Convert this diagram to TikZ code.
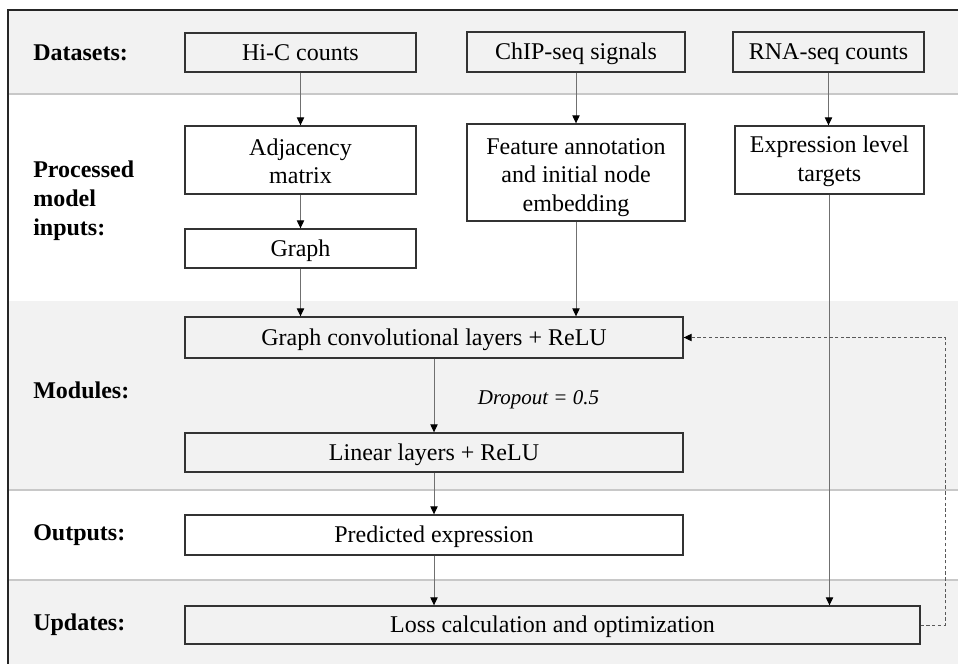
\documentclass[tikz,border=0pt]{standalone}
\usepackage{fontspec}
\setmainfont{Liberation Serif}
\usetikzlibrary{arrows.meta}
\def\px{0.75pt}
\definecolor{bandgray}{HTML}{F2F2F2}
\definecolor{sepgray}{HTML}{C8C8C8}
\definecolor{boxline}{HTML}{333333}
\definecolor{conline}{HTML}{707070}
\tikzset{
  boxnode/.style={draw=boxline, line width=1pt, inner sep=0pt, align=center,
    font=\fontsize{18}{21.4}\selectfont, text height=11.9pt, text depth=0pt},
  rowlabel/.style={anchor=west, align=left, inner sep=0pt,
    font=\fontsize{18}{21.8}\selectfont\bfseries, text height=11.9pt, text depth=0pt},
  arr/.style={draw=conline, line width=0.75pt, -{Triangle[length=6pt,width=5.5pt,color=black]}},
  feedback/.style={draw=black!65, line width=0.7pt, dash pattern=on 2.5pt off 1.8pt,
    -{Triangle[length=6pt,width=5.5pt,color=black]}},
  seprule/.style={draw=sepgray, line width=1pt},
}
\begin{document}
\begin{tikzpicture}[x=0.75pt,y=-0.75pt]
\useasboundingbox (0,0) rectangle (958,664);
% bands
\fill[bandgray] (8,10) rectangle (958,94);
\fill[white] (8,94) rectangle (958,301);
\fill[bandgray] (8,301) rectangle (958,490);
\fill[white] (8,490) rectangle (958,580);
\fill[bandgray] (8,580) rectangle (958,664);
\draw[seprule] (8,94) -- (958,94);
\draw[seprule] (8,490) -- (958,490);
\draw[seprule] (8,580) -- (958,580);
% frame
\draw[black!85, line width=1.5pt] (8,664) -- (8,10) -- (958,10);
% row labels
\node[rowlabel] (ldata) at (33,53) {Datasets:};
\node[rowlabel, text height=55pt] (lproc) at (33,199) {Processed\\model\\inputs:};
\node[rowlabel] (lmod) at (33,391) {Modules:};
\node[rowlabel] (lout) at (33,533) {Outputs:};
\node[rowlabel] (lupd) at (33,623) {Updates:};
% boxes
\node[boxnode, fill=bandgray, minimum width=231*\px, minimum height=39*\px] (hic) at (300.5,52.5) {Hi-C counts};
\node[boxnode, fill=bandgray, minimum width=218*\px, minimum height=40*\px] (chip) at (576,52) {ChIP-seq signals};
\node[boxnode, fill=bandgray, minimum width=191*\px, minimum height=40*\px] (rna) at (828.5,52) {RNA-seq counts};
\node[boxnode, fill=white, minimum width=231*\px, minimum height=68*\px, text height=35.5pt] (adj) at (300.5,160) {Adjacency\\matrix};
\node[boxnode, fill=white, minimum width=218*\px, minimum height=97*\px, text height=58pt] (feat) at (576,172.5) {Feature annotation\\and initial node\\embedding};
\node[boxnode, fill=white, minimum width=189*\px, minimum height=68*\px, text height=32pt] (expr) at (829.5,160) {Expression level\\targets};
\node[boxnode, fill=white, minimum width=231*\px, minimum height=39*\px] (graph) at (300.5,248.5) {Graph};
\node[boxnode, fill=bandgray, minimum width=498*\px, minimum height=41*\px] (gcn) at (434,337.5) {Graph convolutional layers + ReLU};
\node[boxnode, fill=bandgray, minimum width=498*\px, minimum height=39*\px] (lin) at (434,452.5) {Linear layers + ReLU};
\node[boxnode, fill=white, minimum width=498*\px, minimum height=40*\px] (pred) at (434,535) {Predicted expression};
\node[boxnode, fill=bandgray, minimum width=735*\px, minimum height=38*\px] (loss) at (552.5,625) {Loss calculation and optimization};
\node[inner sep=0pt, font=\fontsize{15.75}{18}\selectfont\itshape, text height=10.4pt, text depth=0pt] (drop) at (538.5,398) {Dropout = 0.5};
% connectors
\draw[arr] (hic.south) -- (adj.north);
\draw[arr] (adj.south) -- (graph.north);
\draw[arr] (graph.south) -- (graph.south |- gcn.north);
\draw[arr] (chip.south) -- (feat.north);
\draw[arr] (feat.south) -- (feat.south |- gcn.north);
\draw[arr] (rna.south) -- (rna.south |- expr.north);
\draw[arr] (expr.south) -- (expr.south |- loss.north);
\draw[arr] (gcn.south) -- (lin.north);
\draw[arr] (lin.south) -- (pred.north);
\draw[arr] (pred.south) -- (pred.south |- loss.north);
\coordinate (fbturn) at (945,625);
\draw[feedback] (loss.east) -- (fbturn) |- (gcn.east);
\end{tikzpicture}
\end{document}
